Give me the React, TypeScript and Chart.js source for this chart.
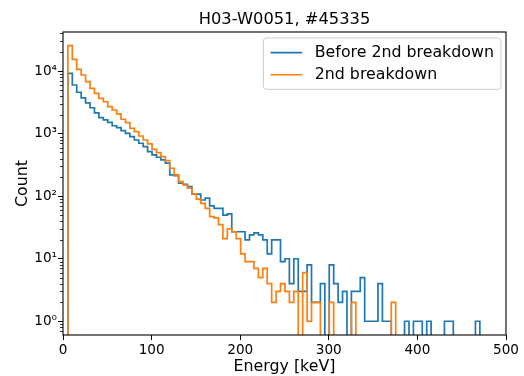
import React, { useEffect, useRef } from 'react';
import { Chart, registerables } from 'chart.js';

Chart.register(...registerables);

const TITLE = 'H03-W0051, #45335';
const X_LABEL = 'Energy [keV]';
const Y_LABEL = 'Count';
const SERIES_NAMES = ['Before 2nd breakdown', '2nd breakdown'];
const SERIES_COLORS = ['#1f77b4', '#ff7f0e'];
const X_TICKS = [0, 100, 200, 300, 400, 500];
const Y_DECADES = [0, 1, 2, 3, 4];
const SUPERSCRIPT = ['⁰', '¹', '²', '³', '⁴'];

// histogram bins (keV)
const BIN_START = 5.5;
const BIN_WIDTH = 5;

const BEFORE_COUNTS = [
  9200, 6000, 4600, 3750, 3100, 2600, 2150, 1800, 1660, 1520,
  1340, 1250, 1116, 1013, 895, 792, 703, 620, 516, 457,
  420, 380, 337, 219, 214, 161, 155, 142, 108, 108,
  87, 93, 70, 64, 64, 50, 52, 27, 27, 27,
  20, 24, 26, 24, 20, 12, 20, 20, 9, 10,
  4, 10, 3, 3, 8, 2, 2, 4, 0, 8,
  4, 2, 3, 0, 3, 3, 5, 1, 1, 1,
  4, 1, 1, 0, 0, 0, 1, 0, 1, 1,
  0, 1, 0, 0, 0, 1, 1, 0, 0, 0,
  0, 0, 1,
];

const SECOND_COUNTS = [
  25500, 15400, 10700, 8670, 6780, 5310, 4420, 3680, 3240, 2700,
  2390, 2080, 1700, 1500, 1220, 1076, 918, 792, 685, 563,
  497, 430, 370, 280, 219, 171, 151, 134, 109, 90,
  77, 64, 47, 45, 35, 21, 30, 27, 21, 12,
  9, 9, 7, 5, 7, 4, 2, 3, 4, 3,
  2, 3, 0, 6, 1, 2, 2, 0, 0, 2,
  0, 0, 0, 0, 2, 0, 0, 0, 0, 0,
  0, 0, 0, 2,
];

const Y_MIN = 0.603;
const Y_MAX = 42270;

const FONT = '"DejaVu Sans", sans-serif';
const TICK_SIZE = 13.6;
const LABEL_SIZE = 15.8;
const TITLE_SIZE = 16.3;
const LEGEND_SIZE = 15.8;
const LINE_W = 1.7;

const FLOOR = 1e-3;

function stepPoints(counts: number[]) {
  const edge = (i: number) => BIN_START + i * BIN_WIDTH;
  const v = (c: number) => (c > 0 ? c : FLOOR);
  const pts: { x: number; y: number }[] = [];
  pts.push({ x: edge(0), y: FLOOR });
  counts.forEach((c, i) => pts.push({ x: edge(i), y: v(c) }));
  const n = counts.length;
  pts.push({ x: edge(n), y: v(counts[n - 1]) });
  pts.push({ x: edge(n), y: FLOOR });
  return pts;
}

function yTickList() {
  const list: { value: number; major: boolean }[] = [];
  for (let e = -1; e <= 4; e++) {
    for (let m = 1; m <= 9; m++) {
      const val = m * Math.pow(10, e);
      if (val >= Y_MIN && val <= Y_MAX) list.push({ value: val, major: m === 1 });
    }
  }
  return list;
}

const isPow10 = (v: number) => {
  const l = Math.log10(v);
  return Math.abs(l - Math.round(l)) < 1e-9;
};

const decorPlugin = {
  id: 'decor',
  afterDraw(chart: any) {
    const { ctx, chartArea: a } = chart;
    const ys = chart.scales.y;
    ctx.save();
    // minor y ticks
    ctx.strokeStyle = '#000';
    ctx.lineWidth = 0.8;
    yTickList().forEach((t) => {
      if (t.major) return;
      const py = Math.round(ys.getPixelForValue(t.value)) + 0.5;
      ctx.beginPath();
      ctx.moveTo(a.left, py);
      ctx.lineTo(a.left - 3, py);
      ctx.stroke();
    });
    // spines
    ctx.lineWidth = 1.1;
    ctx.strokeStyle = '#000';
    ctx.strokeRect(a.left, a.top, a.right - a.left, a.bottom - a.top);

    // title
    ctx.fillStyle = '#000';
    ctx.font = `${TITLE_SIZE}px ${FONT}`;
    ctx.textAlign = 'center';
    ctx.textBaseline = 'alphabetic';
    ctx.fillText(TITLE, (a.left + a.right) / 2, a.top - 8);

    // legend
    const F = LEGEND_SIZE;
    ctx.font = `${F}px ${FONT}`;
    const textW = Math.max(...SERIES_NAMES.map((s) => ctx.measureText(s).width));
    const pad = 0.45 * F;
    const handleLen = 2 * F;
    const handlePad = 0.8 * F;
    const rowH = 0.95 * F;
    const spacing = 0.45 * F;
    const boxW = pad + handleLen + handlePad + textW + pad;
    const boxH = pad * 2 + rowH * SERIES_NAMES.length + spacing * (SERIES_NAMES.length - 1);
    const bx = a.right - 5 - boxW;
    const by = a.top + 6;
    const r = 0.2 * F;
    ctx.beginPath();
    ctx.moveTo(bx + r, by);
    ctx.lineTo(bx + boxW - r, by);
    ctx.quadraticCurveTo(bx + boxW, by, bx + boxW, by + r);
    ctx.lineTo(bx + boxW, by + boxH - r);
    ctx.quadraticCurveTo(bx + boxW, by + boxH, bx + boxW - r, by + boxH);
    ctx.lineTo(bx + r, by + boxH);
    ctx.quadraticCurveTo(bx, by + boxH, bx, by + boxH - r);
    ctx.lineTo(bx, by + r);
    ctx.quadraticCurveTo(bx, by, bx + r, by);
    ctx.closePath();
    ctx.fillStyle = 'rgba(255,255,255,0.8)';
    ctx.fill();
    ctx.strokeStyle = '#cccccc';
    ctx.lineWidth = 1;
    ctx.stroke();
    SERIES_NAMES.forEach((name, i) => {
      const cy = by + pad + rowH / 2 + i * (rowH + spacing);
      ctx.strokeStyle = SERIES_COLORS[i];
      ctx.lineWidth = LINE_W;
      ctx.beginPath();
      ctx.moveTo(bx + pad, cy);
      ctx.lineTo(bx + pad + handleLen, cy);
      ctx.stroke();
      ctx.fillStyle = '#000';
      ctx.textAlign = 'left';
      ctx.textBaseline = 'middle';
      ctx.fillText(name, bx + pad + handleLen + handlePad, cy);
    });
    ctx.restore();
  },
};

export default function App() {
  const ref = useRef<HTMLCanvasElement>(null);
  useEffect(() => {
    document.body.style.margin = '0';
    const chart = new Chart(ref.current as HTMLCanvasElement, {
      type: 'line',
      data: {
        datasets: [
          {
            label: SERIES_NAMES[0],
            data: stepPoints(BEFORE_COUNTS),
            borderColor: SERIES_COLORS[0],
            borderWidth: LINE_W,
            pointRadius: 0,
            stepped: 'before',
            fill: false,
            clip: 0,
            order: 1,
          },
          {
            label: SERIES_NAMES[1],
            data: stepPoints(SECOND_COUNTS),
            borderColor: SERIES_COLORS[1],
            borderWidth: LINE_W,
            pointRadius: 0,
            stepped: 'before',
            fill: false,
            clip: 0,
            order: 0,
          },
        ],
      },
      options: {
        animation: false,
        responsive: false,
        devicePixelRatio: 1,
        parsing: false,
        normalized: true,
        layout: { padding: { left: 0, right: 18, top: 32, bottom: 0 } },
        plugins: {
          legend: { display: false },
          tooltip: { enabled: false },
          title: { display: false },
        },
        scales: {
          x: {
            type: 'linear',
            min: 0,
            max: 500,
            afterBuildTicks: (s: any) => {
              s.ticks = X_TICKS.map((v) => ({ value: v }));
            },
            afterFit: (s: any) => {
              s.height = 41;
            },
            grid: {
              display: true,
              drawOnChartArea: false,
              drawTicks: true,
              tickLength: 5,
              tickColor: '#000',
              tickWidth: 1,
            },
            border: { display: false },
            ticks: {
              color: '#000',
              font: { family: FONT, size: TICK_SIZE },
              padding: 2,
              maxRotation: 0,
              autoSkip: false,
            },
            title: {
              display: true,
              text: X_LABEL,
              color: '#000',
              font: { family: FONT, size: LABEL_SIZE },
              padding: { top: 0, bottom: 0 },
            },
          },
          y: {
            type: 'logarithmic',
            min: Y_MIN,
            max: Y_MAX,
            bounds: 'data',
            afterBuildTicks: (s: any) => {
              s.ticks = yTickList().map((t) => ({ value: t.value, major: false }));
            },
            afterFit: (s: any) => {
              s.width = 63;
            },
            grid: {
              display: true,
              drawOnChartArea: false,
              drawTicks: true,
              tickLength: 5,
              tickColor: (c: any) => (c.tick && isPow10(c.tick.value) ? '#000' : 'rgba(0,0,0,0)'),
              tickWidth: 1,
            },
            border: { display: false },
            ticks: {
              color: '#000',
              font: { family: FONT, size: TICK_SIZE },
              padding: 1,
              autoSkip: false,
              callback: (v: any) => {
                const val = Number(v);
                if (!isPow10(val)) return '';
                const e = Math.round(Math.log10(val));
                const idx = Y_DECADES.indexOf(e);
                return idx >= 0 ? '10' + SUPERSCRIPT[idx] : '';
              },
            },
            title: {
              display: true,
              text: Y_LABEL,
              color: '#000',
              font: { family: FONT, size: LABEL_SIZE },
              padding: { top: 13, bottom: 0 },
            },
          },
        },
      } as any,
      plugins: [decorPlugin],
    });
    return () => chart.destroy();
  }, []);
  return (
    <canvas
      ref={ref}
      width={524}
      height={376}
      style={{ display: 'block', width: 524, height: 376 }}
    />
  );
}
